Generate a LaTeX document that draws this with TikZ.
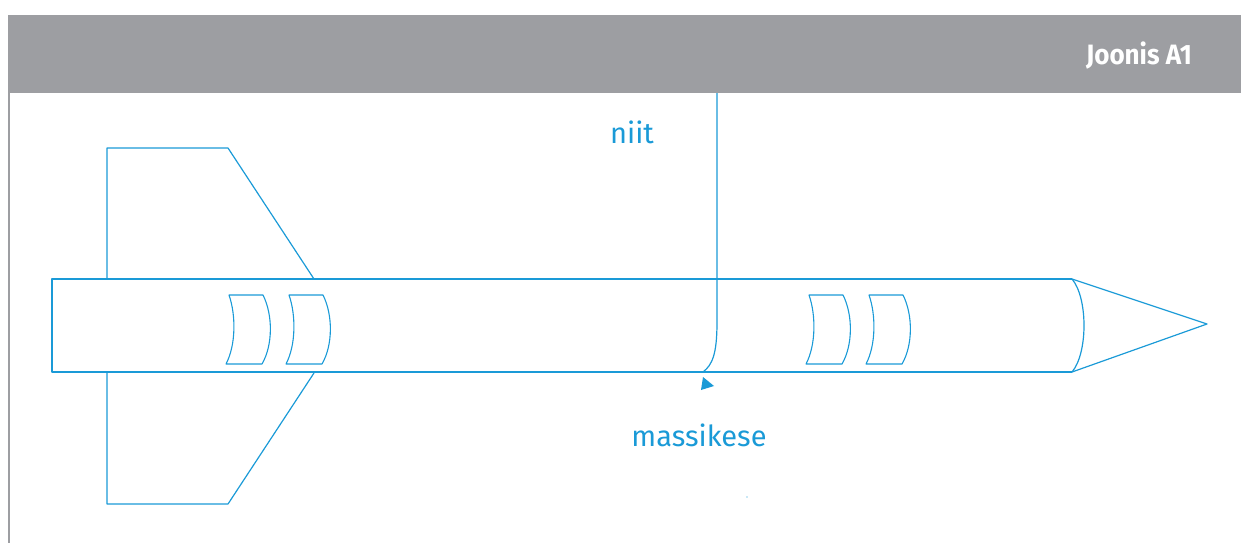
\documentclass[tikz,border=0pt]{standalone}
\usepackage{fontspec}
\setmainfont{Fira Sans}
\definecolor{headgray}{HTML}{9D9EA2}
\definecolor{rocketblue}{HTML}{1A9AD7}
\begin{document}
\begin{tikzpicture}[x=1pt,y=-1pt,
  outline/.style={draw=rocketblue,line width=1.2pt,line join=round},
  label/.style={text=rocketblue,font=\fontsize{29}{29}\selectfont,inner sep=0pt,anchor=base}]
\useasboundingbox (0,0) rectangle (1241,543);
% header band and frame
\fill[headgray] (8,15) rectangle (1241,93);
\draw[headgray,line width=2pt] (9,93) -- (9,543);
\node[text=white,font=\fontsize{28}{28}\selectfont\bfseries,inner sep=0pt,anchor=base,xscale=0.93] (title) at (1139,64) {Joonis A1};
% fins
\draw[outline] (107,279) -- (107,148) -- (228,148) -- (314,279);
\draw[outline] (107,373) -- (107,504) -- (228,504) -- (314,373);
% body tube, closed at the front by the curved joint of the nose cone
\draw[outline] (1072,279) -- (52,279) -- (52,372) -- (1072,372);
% nose cone
\draw[outline] (1072,279) .. controls (1088,298) and (1088,353) .. (1072,372);
\draw[outline] (1072,279) -- (1207,324) -- (1072,372);
% rings
\foreach \rx in {229,289,809,869}{
  \draw[outline,line width=1.1pt] (\rx,295) -- (\rx+34,295)
    .. controls (\rx+44,315) and (\rx+44,345) .. (\rx+33,364) -- (\rx-3,364)
    .. controls (\rx+7,345) and (\rx+7,315) .. (\rx,295) -- cycle;
}
% thread and weight marker
\coordinate (threadtop) at (717,93);
\coordinate (threadend) at (703,372);
\draw[outline] (threadtop) -- (717,322) .. controls (717,355) and (712,365) .. (threadend);
\fill[rocketblue] (703,377) -- (714,386) -- (701,390) -- cycle;
\fill[rocketblue] (747,497) circle (0.6);
% labels
\node[label] (niit) at (632,143) {niit};
\node[label] (massikese) at (699,446) {massikese};
\end{tikzpicture}
\end{document}
